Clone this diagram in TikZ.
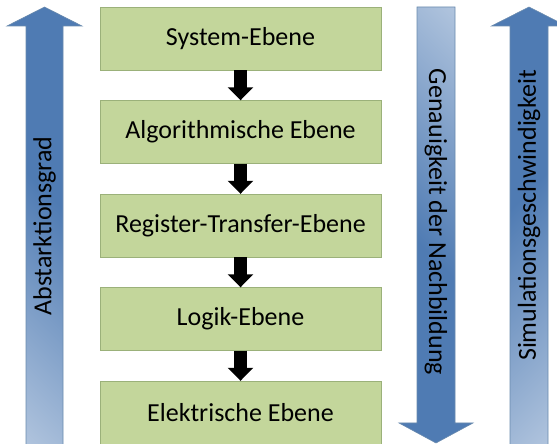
\documentclass[tikz,border=0pt]{standalone}
\usepackage{fontspec}
\setmainfont{Carlito}
\usetikzlibrary{arrows.meta}
\definecolor{levelgreen}{HTML}{C3D69B}
\definecolor{levelline}{HTML}{9BB17A}
\definecolor{bardark}{HTML}{4F7BB3}
\definecolor{barlight}{HTML}{C8D6E8}
\definecolor{barline}{HTML}{6A8BAE}
\pgfdeclareverticalshading{barshade}{100bp}{color(0bp)=(barlight); color(8bp)=(barlight); color(55bp)=(bardark); color(100bp)=(bardark)}
\tikzset{level/.style = {draw = levelline, fill = levelgreen, minimum width = 281pt, minimum height = 63pt, font = \fontsize{26}{30}\selectfont},
	blockarrow/.style = {line width = 13pt, -{Triangle[width = 25pt, length = 13pt]}},
	bar/.style = {draw = barline, line width = 0.6pt, shade, shading = barshade},
	barlabel/.style = {font = \fontsize{26}{30}\selectfont}}

\begin{document}
\begin{tikzpicture}[x = 1pt, y = 1pt]
	
	\useasboundingbox (0, 0) rectangle (557, 444);
	
	% the three gradient arrows
	\path[bar, shading angle = -45]
		(26, -2) -- (26, 418) -- (7, 418) -- (44.5, 437) -- (82, 418) -- (63, 418) -- (63, -2) -- cycle;
	\path[bar, shading angle = 135]
		(417, 437) -- (417, 21) -- (399, 21) -- (436, 1) -- (473, 21) -- (455, 21) -- (455, 437) -- cycle;
	\path[bar, shading angle = 45]
		(510, -2) -- (510, 418) -- (491.5, 418) -- (529, 437) -- (566.5, 418) -- (548, 418) -- (548, -2) -- cycle;
	
	\node[barlabel, rotate = 90] (6) at (44.5, 218) {Abstarktionsgrad};
	\node[barlabel, rotate = -90] (7) at (436, 222) {Genauigkeit der Nachbildung};
	\node[barlabel, rotate = 90] (8) at (529, 228.5) {Simulationsgeschwindigkeit};
	
	% the levels
	\node[level] (1) at (240.5, 405.5) {System-Ebene};
	\node[level] (2) at (240.5, 312) {Algorithmische Ebene};
	\node[level] (3) at (240.5, 218.5) {Register-Transfer-Ebene};
	\node[level] (4) at (240.5, 125) {Logik-Ebene};
	\node[level] (5) at (240.5, 31.5) {Elektrische Ebene};
	
	\path (1) edge[blockarrow] (2);
	\path (2) edge[blockarrow] (3);
	\path (3) edge[blockarrow] (4);
	\path (4) edge[blockarrow] (5);
	
\end{tikzpicture}
\end{document}
